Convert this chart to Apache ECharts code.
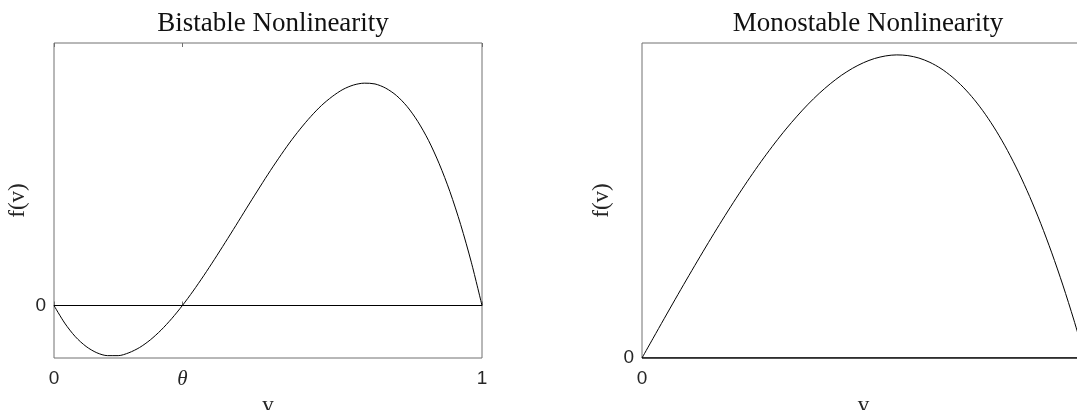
<!DOCTYPE html>
<html>
<head>
<meta charset="utf-8">
<script src="https://cdn.jsdelivr.net/npm/echarts@6/dist/echarts.min.js"></script>
<style>html,body{margin:0;padding:0;background:#fff}#c{width:1077px;height:410px}</style>
</head>
<body>
<div id="c"></div>
<script>
// v samples (shared by both panels)
const vValues = [0,0.025,0.05,0.075,0.1,0.125,0.15,0.175,0.2,0.225,0.25,0.275,0.3,0.325,0.35,0.375,0.4,0.425,0.45,0.475,0.5,0.525,0.55,0.575,0.6,0.625,0.65,0.675,0.7,0.725,0.75,0.775,0.8,0.825,0.85,0.875,0.9,0.925,0.95,0.975,1];
// Bistable f(v)
const bistableF = [0,-0.0067,-0.0119,-0.0156,-0.018,-0.0191,-0.0191,-0.018,-0.016,-0.0131,-0.0094,-0.005,0,0.0055,0.0114,0.0176,0.024,0.0305,0.0371,0.0436,0.05,0.0561,0.0619,0.0672,0.072,0.0762,0.0796,0.0823,0.084,0.0847,0.0844,0.0828,0.08,0.0758,0.0701,0.0629,0.054,0.0434,0.0309,0.0165,0];
// Monostable f(v)
const monostableF = [0,0.025,0.0499,0.0746,0.099,0.123,0.1466,0.1696,0.192,0.2136,0.2344,0.2542,0.273,0.2907,0.3071,0.3223,0.336,0.3482,0.3589,0.3678,0.375,0.3803,0.3836,0.3849,0.384,0.3809,0.3754,0.3675,0.357,0.3439,0.3281,0.3095,0.288,0.2635,0.2359,0.2051,0.171,0.1335,0.0926,0.0481,0];
const zeroLineV = [0,1];
const zeroLineF = [0,0];
const theta = 0.3;
const leftXTicks = [0, theta, 1];
const leftYTicks = [0];
const rightXTicks = [0];
const rightYTicks = [0];
const titles = ['Bistable Nonlinearity','Monostable Nonlinearity'];
const axisNameX = 'v';
const axisNameY = 'f(v)';

const pairs = (xs, ys) => xs.map((x, i) => [x, ys[i]]);
const sans = 'Liberation Sans';
const serif = 'Liberation Serif';
const txt = '#262626';
const boxColor = '#707070';

const chart = echarts.init(document.getElementById('c'), null, {renderer: 'canvas'});
const option = {
  animation: false,
  backgroundColor: '#fff',
  title: [
    {text: titles[0], left: 268, top: 5, textAlign: 'center',
     textStyle: {fontFamily: serif, fontSize: 27, fontWeight: 'normal', color: '#111'}},
    {text: titles[1], left: 863, top: 5, textAlign: 'center',
     textStyle: {fontFamily: serif, fontSize: 27, fontWeight: 'normal', color: '#111'}}
  ],
  grid: [
    {left: 54, right: 595, top: 43, bottom: 52, show: true, borderColor: boxColor, borderWidth: 1,
     backgroundColor: 'transparent', outerBoundsMode: 'none', containLabel: false},
    {left: 642, right: -8, top: 43, bottom: 52, show: true, borderColor: boxColor, borderWidth: 1,
     backgroundColor: 'transparent', outerBoundsMode: 'none', containLabel: false}
  ],
  xAxis: [
    {gridIndex: 0, type: 'value', min: 0, max: 1, position: 'bottom',
     name: axisNameX, nameLocation: 'middle', nameGap: 36,
     nameTextStyle: {fontFamily: serif, fontSize: 23, color: txt},
     axisLine: {show: false}, splitLine: {show: false},
     axisTick: {show: true, inside: true, length: 4, customValues: leftXTicks, lineStyle: {color: boxColor}},
     axisLabel: {customValues: leftXTicks, margin: 11, fontFamily: sans, fontSize: 19, color: txt,
       formatter: v => Math.abs(v - theta) < 1e-9 ? '{t|θ}' : String(v),
       rich: {t: {fontFamily: serif, fontStyle: 'italic', fontSize: 21, color: txt}}}},
    {gridIndex: 0, type: 'value', min: 0, max: 1, position: 'top',
     axisLine: {show: false}, splitLine: {show: false}, axisLabel: {show: false},
     axisTick: {show: true, inside: true, length: 4, customValues: leftXTicks, lineStyle: {color: boxColor}}},
    {gridIndex: 1, type: 'value', min: 0, max: 1, position: 'bottom',
     name: axisNameX, nameLocation: 'middle', nameGap: 36,
     nameTextStyle: {fontFamily: serif, fontSize: 23, color: txt},
     axisLine: {show: false}, splitLine: {show: false},
     axisTick: {show: false},
     axisLabel: {customValues: rightXTicks, margin: 11, fontFamily: sans, fontSize: 19, color: txt}}
  ],
  yAxis: [
    {gridIndex: 0, type: 'value', min: -0.02, max: 0.1,
     name: axisNameY, nameLocation: 'middle', nameGap: 25,
     nameTextStyle: {fontFamily: serif, fontSize: 23, color: txt},
     axisLine: {show: false}, splitLine: {show: false},
     axisTick: {show: false},
     axisLabel: {customValues: leftYTicks, margin: 8, fontFamily: sans, fontSize: 19, color: txt}},
    {gridIndex: 1, type: 'value', min: 0, max: 0.4,
     name: axisNameY, nameLocation: 'middle', nameGap: 29,
     nameTextStyle: {fontFamily: serif, fontSize: 23, color: txt},
     axisLine: {show: false}, splitLine: {show: false},
     axisTick: {show: false},
     axisLabel: {customValues: rightYTicks, margin: 8, fontFamily: sans, fontSize: 19, color: txt}}
  ],
  series: [
    {type: 'line', xAxisIndex: 0, yAxisIndex: 0, data: pairs(zeroLineV, zeroLineF), showSymbol: false, symbol: 'none',
     lineStyle: {color: '#000', width: 1}, silent: true},
    {type: 'line', xAxisIndex: 0, yAxisIndex: 0, data: pairs(vValues, bistableF), showSymbol: false, symbol: 'none', smooth: 0.3,
     lineStyle: {color: '#000', width: 1}},
    {type: 'line', xAxisIndex: 2, yAxisIndex: 1, data: pairs(zeroLineV, zeroLineF), showSymbol: false, symbol: 'none',
     lineStyle: {color: '#000', width: 1.5}, silent: true},
    {type: 'line', xAxisIndex: 2, yAxisIndex: 1, data: pairs(vValues, monostableF), showSymbol: false, symbol: 'none', smooth: 0.3,
     lineStyle: {color: '#000', width: 1}}
  ]
};
chart.setOption(option);
</script>
</body>
</html>
